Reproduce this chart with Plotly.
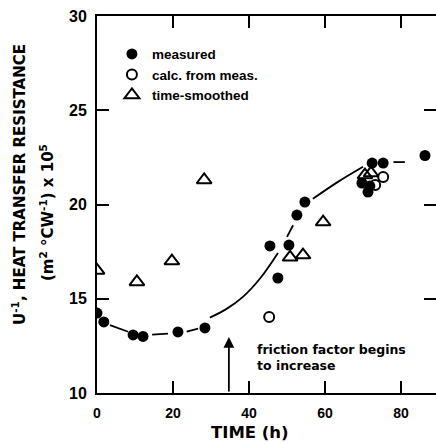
import plotly.graph_objects as go

# ---- data ----
meas_x = [0, 1.8, 9.5, 12.1, 21.3, 28.4, 45.5, 47.6, 50.5, 52.6, 54.7, 69.7, 71.3, 71.8, 72.4, 75.3, 86.3]
meas_y = [14.24, 13.77, 13.08, 13.0, 13.24, 13.45, 17.8, 16.1, 17.85, 19.44, 20.13, 21.14, 20.66, 20.98, 22.2, 22.2, 22.6]

calc_x = [45.3, 73.2, 75.3]
calc_y = [14.03, 21.03, 21.46]

smooth_x = [0, 10.5, 19.7, 28.2, 50.8, 54.2, 59.5, 70.5, 72.1]
smooth_y = [16.5, 15.89, 17.0, 21.3, 17.2, 17.32, 19.07, 21.56, 21.67]

# fitted (hand-drawn) dashed curve, broken into segments
curve_x = [3.4, 8.2, None, 14.5, 18.7, None, 23.6, 26.6, None, 29.7, 34.0, 38.4, 43.0, 47.6, None,
           50.0, 51.6, None, 56.8, 63.4, 70.0, None, 78.0, 81.0]
curve_y = [13.6, 13.25, None, 13.1, 13.15, None, 13.26, 13.42, None, 14.0, 14.45, 15.1, 16.1, 17.43, None,
           18.28, 18.9, None, 20.3, 21.2, 22.0, None, 22.25, 22.25]

y_ticks = [10, 15, 20, 25, 30]
x_ticks = [0, 20, 40, 60, 80]
arrow_x = 34.7
arrow_y = [10.0, 12.97]

FONT = "DejaVu Sans"
NUMFONT = "Liberation Sans"

fig = go.Figure()

fig.add_trace(go.Scatter(x=curve_x, y=curve_y, mode="lines", line=dict(color="black", width=1.8, shape="spline"),
                         connectgaps=False, showlegend=False, hoverinfo="skip"))
fig.add_trace(go.Scatter(x=meas_x, y=meas_y, mode="markers", name="measured",
                         marker=dict(symbol="circle", size=11, color="black")))
fig.add_trace(go.Scatter(x=calc_x, y=calc_y, mode="markers", name="calc. from meas.",
                         marker=dict(symbol="circle-open", size=10, color="black", line=dict(width=2))))
fig.add_trace(go.Scatter(x=smooth_x, y=smooth_y, mode="markers", name="time-smoothed",
                         marker=dict(symbol="triangle-up-open", size=13, color="black", line=dict(width=2))))

# invisible trace to activate right axis ticks
fig.add_trace(go.Scatter(x=[None], y=[None], yaxis="y2", showlegend=False, hoverinfo="skip"))

fig.add_annotation(x=arrow_x, y=arrow_y[1], ax=arrow_x, ay=arrow_y[0], axref="x", ayref="y",
                   xref="x", yref="y", text="", showarrow=True, arrowhead=2, arrowsize=1.2,
                   arrowwidth=1.8, arrowcolor="black")
fig.add_annotation(x=41.6, y=11.86, xref="x", yref="y", xanchor="left", yanchor="middle", align="left",
                   text="friction factor begins<br>to increase", showarrow=False,
                   font=dict(family=FONT, size=12.5, color="black", weight="bold"))

fig.add_annotation(x=-0.230, y=0.552, xref="paper", yref="paper", textangle=-90, showarrow=False,
                   xanchor="center", yanchor="middle",
                   text="U<sup>-1</sup>, HEAT TRANSFER RESISTANCE",
                   font=dict(family=FONT, size=15, color="black", weight="bold"))
fig.add_annotation(x=-0.1475, y=0.480, xref="paper", yref="paper", textangle=-90, showarrow=False,
                   xanchor="center", yanchor="middle",
                   text="(m<sup>2</sup> °CW<sup>-1</sup>) x 10<sup>5</sup>",
                   font=dict(family=FONT, size=15, color="black", weight="bold"))
fig.add_annotation(x=0.451, y=-0.106, xref="paper", yref="paper", showarrow=False,
                   xanchor="center", yanchor="middle",
                   text="TIME (h)", font=dict(family=FONT, size=16.5, color="black", weight="bold"))

fig.update_layout(
    width=436, height=443,
    margin=dict(l=97, r=0, t=16, b=50),
    paper_bgcolor="white", plot_bgcolor="white",
    showlegend=True,
    legend=dict(x=0.044, y=0.94, xanchor="left", yanchor="top", bgcolor="rgba(0,0,0,0)",
                font=dict(family=NUMFONT, size=13.5, color="black", weight="bold"),
                itemwidth=30, tracegroupgap=0),
    xaxis=dict(range=[0, 89.2], tickvals=x_ticks, ticktext=[str(v) for v in x_ticks],
               showgrid=False, zeroline=False, showline=True, linecolor="black", linewidth=2,
               mirror="ticks", ticks="inside", ticklen=12, tickwidth=2, tickcolor="black",
               ticklabelstandoff=6,
               tickfont=dict(family=NUMFONT, size=14, color="black", weight="bold")),
    yaxis=dict(range=[10, 30], tickvals=y_ticks, ticktext=[str(v) for v in y_ticks],
               showgrid=False, zeroline=False, showline=True, linecolor="black", linewidth=2,
               ticks="inside", ticklen=12, tickwidth=2, tickcolor="black",
               ticklabelstandoff=5,
               tickfont=dict(family=NUMFONT, size=16, color="black", weight="bold")),
    yaxis2=dict(range=[10, 30], overlaying="y", side="right", tickvals=y_ticks[1:4],
                showticklabels=False, showgrid=False, zeroline=False, showline=False,
                ticks="inside", ticklen=12, tickwidth=2, tickcolor="black"),
)

fig.write_html("out.html")
